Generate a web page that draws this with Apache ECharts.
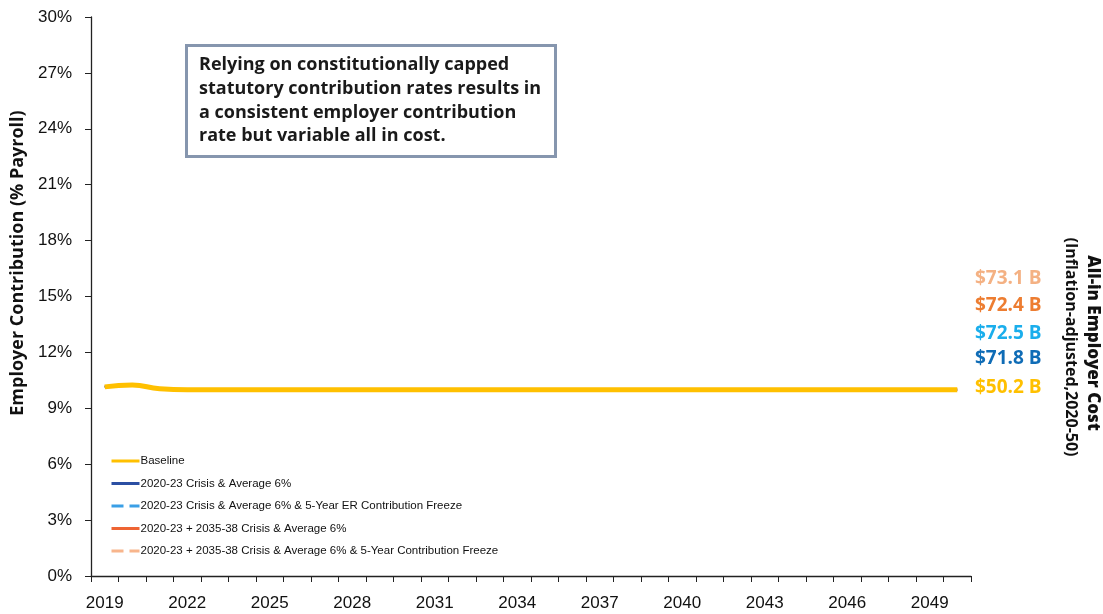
<!DOCTYPE html>
<html>
<head>
<meta charset="utf-8">
<script src="https://cdn.jsdelivr.net/npm/echarts@6/dist/echarts.min.js"></script>
<style>
  html, body { margin: 0; padding: 0; background: #ffffff; }
  #chart { width: 1103px; height: 614px; }
</style>
</head>
<body>
<div id="chart"></div>
<script>
// Plan years shown on the category axis
const years = [];
for (let y = 2019; y <= 2050; y++) years.push(String(y));

// Employer contribution rate (% of payroll) per scenario
const baseline =        [10.15, 10.25, 10.05, 10.0, 10.0, 10.0, 10.0, 10.0, 10.0, 10.0, 10.0, 10.0, 10.0, 10.0, 10.0, 10.0, 10.0, 10.0, 10.0, 10.0, 10.0, 10.0, 10.0, 10.0, 10.0, 10.0, 10.0, 10.0, 10.0, 10.0, 10.0, 10.0];
const crisisAvg6 =      [10.15, 10.25, 10.05, 10.0, 10.0, 10.0, 10.0, 10.0, 10.0, 10.0, 10.0, 10.0, 10.0, 10.0, 10.0, 10.0, 10.0, 10.0, 10.0, 10.0, 10.0, 10.0, 10.0, 10.0, 10.0, 10.0, 10.0, 10.0, 10.0, 10.0, 10.0, 10.0];
const crisisAvg6Freeze =[10.15, 10.25, 10.05, 10.0, 10.0, 10.0, 10.0, 10.0, 10.0, 10.0, 10.0, 10.0, 10.0, 10.0, 10.0, 10.0, 10.0, 10.0, 10.0, 10.0, 10.0, 10.0, 10.0, 10.0, 10.0, 10.0, 10.0, 10.0, 10.0, 10.0, 10.0, 10.0];
const twoCrisisAvg6 =   [10.15, 10.25, 10.05, 10.0, 10.0, 10.0, 10.0, 10.0, 10.0, 10.0, 10.0, 10.0, 10.0, 10.0, 10.0, 10.0, 10.0, 10.0, 10.0, 10.0, 10.0, 10.0, 10.0, 10.0, 10.0, 10.0, 10.0, 10.0, 10.0, 10.0, 10.0, 10.0];
const twoCrisisAvg6Freeze = [10.15, 10.25, 10.05, 10.0, 10.0, 10.0, 10.0, 10.0, 10.0, 10.0, 10.0, 10.0, 10.0, 10.0, 10.0, 10.0, 10.0, 10.0, 10.0, 10.0, 10.0, 10.0, 10.0, 10.0, 10.0, 10.0, 10.0, 10.0, 10.0, 10.0, 10.0, 10.0];

// Scenario names
const seriesNames = [
  'Baseline',
  '2020-23 Crisis & Average 6%',
  '2020-23 Crisis & Average 6% & 5-Year ER Contribution Freeze',
  '2020-23 + 2035-38 Crisis & Average 6%',
  '2020-23 + 2035-38 Crisis & Average 6% & 5-Year Contribution Freeze'
];

// All-in employer cost per scenario (top to bottom as listed at the right)
const costLabels = ['$73.1 B', '$72.4 B', '$72.5 B', '$71.8 B', '$50.2 B'];
const costColors = ['#F4B183', '#ED7D31', '#1AAEEC', '#0F6CB6', '#FFC000'];

const noteLines = [
  'Relying on constitutionally capped',
  'statutory contribution rates results in',
  'a consistent employer contribution',
  'rate but variable all in cost.'
];

const axisFont = "'Liberation Sans Narrow', 'Liberation Sans', sans-serif";
const boldFont = "'Open Sans', Lato, sans-serif";

const chart = echarts.init(document.getElementById('chart'), null, { renderer: 'canvas' });

function lineSeries(name, data, color, type, width, z) {
  return {
    name: name,
    type: 'line',
    data: data,
    smooth: true,
    symbol: 'none',
    z: z,
    lineStyle: { color: color, width: width, type: type },
    itemStyle: { color: color }
  };
}

const graphics = [];
// Annotation box
graphics.push({
  type: 'rect',
  left: 185, top: 44,
  shape: { width: 369, height: 111 },
  style: { fill: '#ffffff', stroke: '#8696AE', lineWidth: 3 },
  z: 10
});
noteLines.forEach((t, i) => {
  graphics.push({
    type: 'text',
    x: 199, y: 65 + i * 23.7,
    style: { text: t, font: "bold 18px " + boldFont, fill: '#1a1a1a', verticalAlign: 'middle' },
    z: 11
  });
});
// Cost labels at the right
const costY = [279, 306, 334, 359, 388];
costLabels.forEach((t, i) => {
  graphics.push({
    type: 'text',
    x: 975, y: costY[i],
    style: { text: t, font: "bold 19px " + boldFont, fill: costColors[i], verticalAlign: 'middle', align: 'left' },
    z: 11
  });
});
// Right-side vertical title
graphics.push({
  type: 'text',
  x: 1093, y: 343, rotation: -Math.PI / 2,
  style: { text: 'All-in Employer Cost', font: "800 17px " + boldFont, fill: '#111', align: 'center', verticalAlign: 'middle' },
  z: 11
});
graphics.push({
  type: 'text',
  x: 1071, y: 347, rotation: -Math.PI / 2,
  style: { text: '(Inflation-adjusted,2020-50)', font: "bold 16px " + boldFont, fill: '#111', align: 'center', verticalAlign: 'middle' },
  z: 11
});
// Left axis title
graphics.push({
  type: 'text',
  x: 18, y: 263, rotation: Math.PI / 2,
  style: { text: 'Employer Contribution (% Payroll)', font: "bold 18px 'Open Sans', sans-serif", fill: '#111', align: 'center', verticalAlign: 'middle' },
  z: 11
});

chart.setOption({
  animation: false,
  backgroundColor: '#ffffff',
  grid: { left: 91, right: 132, top: 17, bottom: 38, containLabel: false },
  legend: {
    orient: 'vertical',
    left: 105, top: 450,
    itemWidth: 28, itemHeight: 12, itemGap: 10.5,
    itemStyle: { opacity: 0 },
    lineStyle: { width: 3 },
    textStyle: { fontSize: 11.5, fontFamily: axisFont, color: '#111', padding: [0, 0, 0, -4] },
    data: seriesNames
  },
  xAxis: {
    type: 'category',
    data: years,
    boundaryGap: true,
    axisLine: { lineStyle: { color: '#222', width: 1.3 } },
    axisTick: { show: true, alignWithLabel: false, interval: 0, length: 6, lineStyle: { color: '#222' } },
    axisLabel: { interval: 2, margin: 19, fontSize: 17, fontFamily: axisFont, color: '#111' },
    splitLine: { show: false }
  },
  yAxis: {
    type: 'value',
    min: 0, max: 30, interval: 3,
    axisLine: { show: true, lineStyle: { color: '#222', width: 1.3 } },
    axisTick: { show: true, inside: false, length: 6, lineStyle: { color: '#222' } },
    axisLabel: { formatter: '{value}%', margin: 19, fontSize: 17, fontFamily: axisFont, color: '#111' },
    splitLine: { show: false }
  },
  graphic: graphics,
  series: [
    lineSeries(seriesNames[4], twoCrisisAvg6Freeze, '#F8B58C', 'dashed', 2.5, 2),
    lineSeries(seriesNames[3], twoCrisisAvg6, '#EE6433', 'solid', 2.5, 2),
    lineSeries(seriesNames[2], crisisAvg6Freeze, '#3A9FE6', 'dashed', 2.5, 2),
    lineSeries(seriesNames[1], crisisAvg6, '#2B4FA3', 'solid', 2.5, 2),
    lineSeries(seriesNames[0], baseline, '#FFC000', 'solid', 5, 5)
  ]
});
</script>
</body>
</html>
